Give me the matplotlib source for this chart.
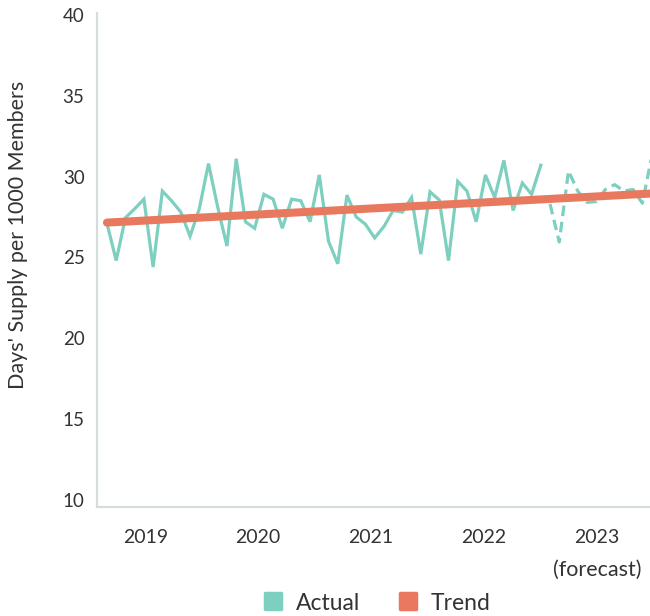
import matplotlib
matplotlib.use('Agg')
import matplotlib.pyplot as plt
from matplotlib.lines import Line2D
from matplotlib.markers import MarkerStyle

plt.rcParams['font.family'] = ['Lato', 'DejaVu Sans']

# ---- data ----
actual = [27.1, 24.8, 27.45, 28.0, 28.6, 24.4, 29.1, 28.5, 27.8, 26.3,
          28.0, 30.8, 28.1, 25.7, 31.1, 27.2, 26.8, 28.9, 28.6, 26.8,
          28.6, 28.5, 27.2, 30.1, 26.0, 24.6, 28.85, 27.5, 27.05, 26.2,
          26.9, 27.9, 27.8, 28.7, 25.2, 29.05, 28.55, 24.8, 29.7, 29.1,
          27.2, 30.1, 28.7, 31.0, 27.9, 29.6, 28.9, 30.7]
forecast = [28.3, 25.95, 30.35, 29.1, 28.4, 28.45, 29.2, 29.5, 29.1, 29.2,
            28.35, 31.2]
trend_ends = [27.15, 28.95]
year_labels = ['2019', '2020', '2021', '2022', '2023']
year_pos = [4.23, 16.36, 28.6, 40.85, 53.09]
forecast_note = '(forecast)'

x_actual = list(range(len(actual)))
x_fore = list(range(len(actual), len(actual) + len(forecast)))
x_trend = [0, x_fore[-1]]

teal = '#7dcfc0'
orange = '#e8795e'
txt = '#333333'
spine_c = '#d5dddc'

fig = plt.figure(figsize=(6.5, 6.16), dpi=100, facecolor='white')
ax = fig.add_axes([97 / 650, (616 - 507) / 616, 1 - 97 / 650, (507 - 13) / 616])

ax.plot(x_actual, actual, color=teal, lw=2.3, solid_joinstyle='miter', zorder=2)
ax.plot(x_fore, forecast, color=teal, lw=2.3, dashes=(3.3, 1.8), zorder=2)
ax.plot(x_trend, trend_ends, color=orange, lw=5.8, solid_capstyle='round', zorder=3)

ax.set_xlim(-1.08, 58.83)
ax.set_ylim(9.55, 40.12)
ax.set_yticks([10, 15, 20, 25, 30, 35, 40])
ax.set_xticks(year_pos)
ax.set_xticklabels(year_labels)
ax.tick_params(axis='both', length=0, colors=txt)
ax.tick_params(axis='x', pad=16, labelsize=14)
ax.tick_params(axis='y', pad=9, labelsize=13.5)

# second line under the last year label
ax.annotate(forecast_note, xy=(year_pos[-1], 616 - 570),
            xycoords=('data', 'figure pixels'), ha='center', va='center',
            fontsize=15.5, color=txt, annotation_clip=False)

for s in ['top', 'right']:
    ax.spines[s].set_visible(False)
for s in ['left', 'bottom']:
    ax.spines[s].set_color(spine_c)
    ax.spines[s].set_linewidth(1.6)

fig.text(18 / 650, (616 - 235) / 616, "Days' Supply per 1000 Members", rotation=90,
         ha='center', va='center', fontsize=15.5, color=txt)

# legend with rounded squares
mk = MarkerStyle('s', joinstyle='round')
handles = [
    Line2D([], [], ls='', marker=mk, markersize=12, markerfacecolor=teal,
           markeredgecolor=teal, markeredgewidth=2.5, label='Actual'),
    Line2D([], [], ls='', marker=mk, markersize=12, markerfacecolor=orange,
           markeredgecolor=orange, markeredgewidth=2.5, label='Trend'),
]
fig.legend(handles=handles, loc='center', bbox_to_anchor=(376 / 650, (616 - 603) / 616),
           ncol=2, frameon=False, fontsize=16.5, handletextpad=0.5, columnspacing=1.6,
           handlelength=1.0, labelcolor=txt)

fig.savefig('out.png', dpi=100, facecolor='white')
